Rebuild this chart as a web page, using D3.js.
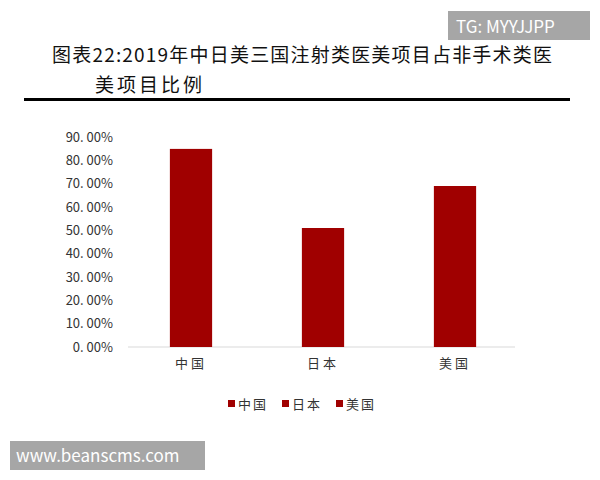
<!DOCTYPE html><html><head><meta charset="utf-8"><script src="https://cdn.jsdelivr.net/npm/d3@7"></script>
<style>body{margin:0;background:#fff}text{font-family:"Noto Sans CJK SC",sans-serif}</style></head><body><svg id="c" width="600" height="480"></svg>
<script>
const categories=["中国","日本","美国"];
const values=[0.849,0.51,0.69];
const ticks=[0,0.1,0.2,0.3,0.4,0.5,0.6,0.7,0.8,0.9];
const svg=d3.select("#c");
const color="#a00000";
svg.append("text").attr("x",52).attr("y",62).attr("font-size",19).attr("fill","#111").style("letter-spacing","1.2px").text("图表22:2019年中日美三国注射类医美项目占非手术类医");
svg.append("text").attr("x",95).attr("y",92).attr("font-size",19).attr("fill","#111").style("letter-spacing","3px").text("美项目比例");
svg.append("rect").attr("x",24).attr("y",98).attr("width",546).attr("height",3).attr("fill","#000");
svg.append("rect").attr("x",448).attr("y",11).attr("width",142).attr("height",29).attr("fill","#a6a6a6");
svg.append("text").attr("x",456).attr("y",33).attr("font-size",17).attr("fill","#fff").attr("font-family","Liberation Sans, sans-serif").text("TG: MYYJJPP");
const x=d3.scaleBand().domain(categories).range([125,521]).paddingInner(0.68).paddingOuter(0.34);
const y=d3.scaleLinear().domain([0,0.9]).range([347,137]);
const ya=svg.append("g").attr("transform","translate(118,0)").call(d3.axisLeft(y).tickValues(ticks).tickFormat(d=>d3.format(".2%")(d).replace(".",". ")).tickSize(0));
ya.select(".domain").remove();
ya.selectAll("text").attr("font-size",13).attr("fill","#333").attr("x",-5).style("white-space","pre").attr("font-family","DejaVu Sans Mono, monospace");
svg.append("line").attr("x1",128).attr("x2",515).attr("y1",347).attr("y2",347).attr("stroke","#d9d9d9");
svg.selectAll(".b").data(values).join("rect").attr("x",(d,i)=>x(categories[i])).attr("width",x.bandwidth()).attr("y",d=>y(d)).attr("height",d=>347-y(d)).attr("fill",color);
const xa=svg.append("g").attr("transform","translate(0,347)").call(d3.axisBottom(x).tickSize(0));
xa.select(".domain").remove();
xa.selectAll("text").attr("font-size",13).attr("fill","#333").attr("dy","1.4em").style("letter-spacing","3px");
const lg=svg.append("g");
categories.forEach((c,i)=>{const gx=228+i*54;
lg.append("rect").attr("x",gx).attr("y",400).attr("width",7).attr("height",7).attr("fill",color);
lg.append("text").attr("x",gx+10).attr("y",409).attr("font-size",13).attr("fill","#333").style("letter-spacing","2px").text(c);});
svg.append("rect").attr("x",10).attr("y",441).attr("width",195).attr("height",29).attr("fill","#a6a6a6");
svg.append("text").attr("x",16).attr("y",462).attr("font-size",17).attr("fill","#fff").attr("font-family","Liberation Sans, sans-serif").text("www.beanscms.com");
</script></body></html>
